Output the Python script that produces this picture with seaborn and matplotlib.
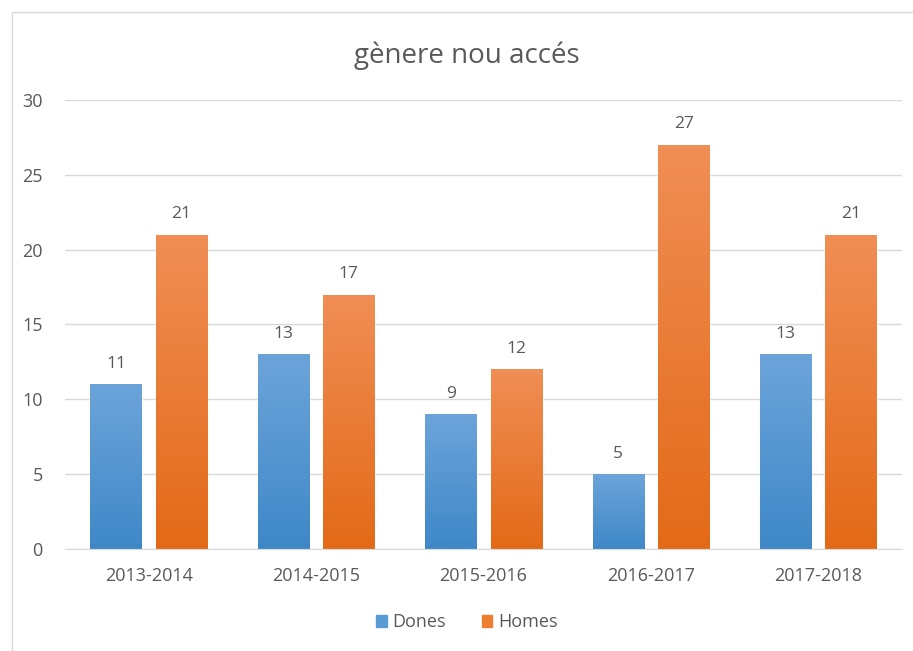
import matplotlib.pyplot as plt
import matplotlib.patches as mpatches
from matplotlib.colors import LinearSegmentedColormap
import seaborn as sns
import numpy as np
import pandas as pd

# Chart data
cursos = ['2013-2014', '2014-2015', '2015-2016', '2016-2017', '2017-2018']
dones = [11, 13, 9, 5, 13]
homes = [21, 17, 12, 27, 21]
series = ['Dones', 'Homes']

colors = {'Dones': '#5B9BD5', 'Homes': '#ED7D31'}
grad = {'Dones': ('#6CA4DA', '#3F88C8'), 'Homes': ('#F08E55', '#E36A18')}
txt = '#595959'
line = '#D9D9D9'

df = pd.DataFrame({
    'curs': cursos * 2,
    'valor': dones + homes,
    'genere': ['Dones'] * len(cursos) + ['Homes'] * len(cursos),
})

sns.set_style('white')
plt.rcParams['font.family'] = ['Open Sans', 'DejaVu Sans']

fig = plt.figure(figsize=(9.13, 6.51), dpi=100)
ax = fig.add_axes([0.0712, 0.1567, 0.9168, 0.6897])

sns.barplot(data=df, x='curs', y='valor', hue='genere', palette=colors,
            width=0.78, gap=0.215, ax=ax, legend=False, saturation=1)

# gradient fill like the office chart
for cont, name in zip(ax.containers, series):
    cmap = LinearSegmentedColormap.from_list(name, [grad[name][1], grad[name][0]])
    for p in cont.patches:
        x0, y0 = p.get_x(), p.get_y()
        w, h = p.get_width(), p.get_height()
        im = ax.imshow(np.linspace(0, 1, 100).reshape(-1, 1), cmap=cmap,
                       extent=[x0, x0 + w, y0, y0 + h], origin='lower',
                       aspect='auto', zorder=p.get_zorder())
        im.set_clip_path(p)
    ax.bar_label(cont, padding=9, fontsize=12.5, color=txt)

ax.set_xlim(-0.5, len(cursos) - 0.5)
ax.set_ylim(0, 30)
ax.set_yticks(range(0, 31, 5))
ax.yaxis.grid(True, color=line, linewidth=1)
ax.set_axisbelow(True)
for s in ['top', 'right', 'left']:
    ax.spines[s].set_visible(False)
ax.spines['bottom'].set_color(line)
ax.tick_params(axis='both', length=0, labelsize=13, labelcolor=txt)
ax.tick_params(axis='y', pad=16)
ax.tick_params(axis='x', pad=13)
ax.set_xlabel('')
ax.set_ylabel('')

fig.text(0.511, 0.915, 'gènere nou accés', ha='center', va='center',
         fontsize=20, color=txt)

handles = [mpatches.Patch(color=colors[s], label=s) for s in series]
fig.legend(handles=handles, loc='center', bbox_to_anchor=(0.511, 0.044),
           ncol=2, frameon=False, fontsize=13, labelcolor=txt,
           handlelength=0.6, handleheight=0.6, handletextpad=0.3,
           columnspacing=2.0)

# outer chart frame
fig.patches.append(mpatches.Rectangle((12 / 913, -0.01), 1.0, 1 - 12 / 651 + 0.01,
                                      transform=fig.transFigure, fill=False,
                                      edgecolor=line, linewidth=1))

fig.savefig('out.png', dpi=100)
